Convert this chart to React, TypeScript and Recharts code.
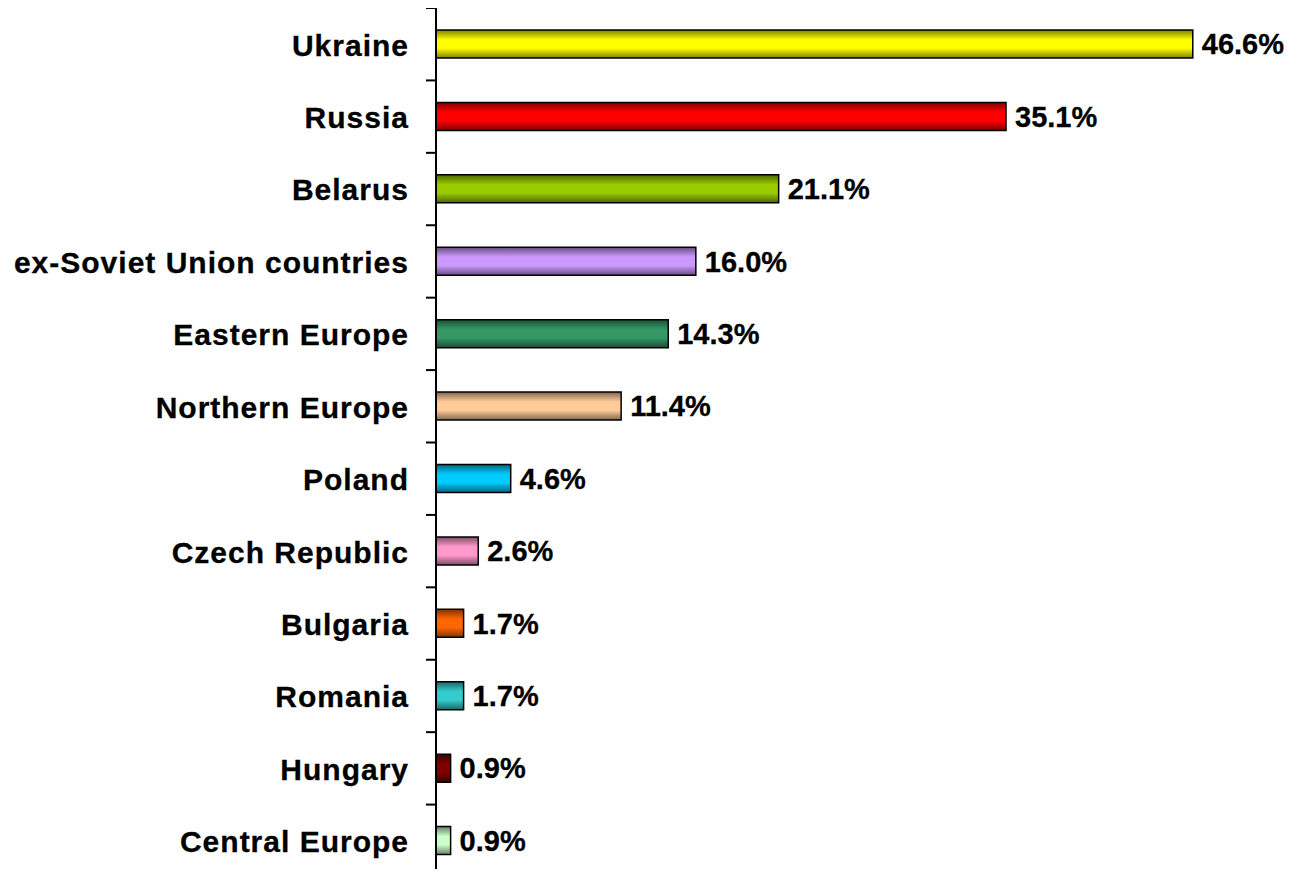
import React from 'react';
import { BarChart, Bar, XAxis, YAxis, Cell, LabelList } from 'recharts';

const regions = [
  'Ukraine',
  'Russia',
  'Belarus',
  'ex-Soviet Union countries',
  'Eastern Europe',
  'Northern Europe',
  'Poland',
  'Czech Republic',
  'Bulgaria',
  'Romania',
  'Hungary',
  'Central Europe',
];

const shares = [46.6, 35.1, 21.1, 16.0, 14.3, 11.4, 4.6, 2.6, 1.7, 1.7, 0.9, 0.9];

const barColors = [
  '#FFFF00',
  '#FF0000',
  '#99CC00',
  '#CC99FF',
  '#339966',
  '#FFCC99',
  '#00CCFF',
  '#FF99CC',
  '#FF6600',
  '#33CCCC',
  '#800000',
  '#CCFFCC',
];

const chartData = regions.map((name, i) => ({ name, value: shares[i] }));

// darken a hex colour for the edges of the bar gradient
function shade(hex: string, f: number) {
  const n = parseInt(hex.slice(1), 16);
  const r = Math.round(((n >> 16) & 255) * f);
  const g = Math.round(((n >> 8) & 255) * f);
  const b = Math.round((n & 255) * f);
  return `rgb(${r},${g},${b})`;
}

const FONT = 'Arial, "Liberation Sans", sans-serif';

function CategoryTick(props: any) {
  const { x, y, payload } = props;
  const half = payload.offset || 0;
  return (
    <g>
      <line x1={x + 18} x2={x + 28} y1={y - half} y2={y - half} stroke="#000" strokeWidth={2} />
      <text
        x={x + 1}
        y={y}
        dy="0.38em"
        textAnchor="end"
        fontFamily={FONT}
        fontWeight="bold"
        fontSize={30}
        letterSpacing={1}
        stroke="#000"
        strokeWidth={0.3}
        fill="#000"
      >
        {payload.value}
      </text>
    </g>
  );
}

export default function App() {
  return (
    <div style={{ margin: -8, width: 1299, height: 877, background: '#fff' }}>
      <BarChart
        width={1299}
        height={877}
        data={chartData}
        layout="vertical"
        margin={{ top: 8, right: 51, left: 0, bottom: 0 }}
      >
        <defs>
          {barColors.map((c, i) => (
            <linearGradient key={i} id={`bar-grad-${i}`} x1="0" y1="0" x2="0" y2="1">
              <stop offset="0%" stopColor={shade(c, 0.5)} />
              <stop offset="35%" stopColor={c} />
              <stop offset="65%" stopColor={c} />
              <stop offset="100%" stopColor={shade(c, 0.5)} />
            </linearGradient>
          ))}
        </defs>
        <XAxis type="number" domain={[0, 50]} hide />
        <YAxis
          type="category"
          dataKey="name"
          width={436}
          axisLine={{ stroke: '#000', strokeWidth: 2 }}
          tickLine={false}
          tickSize={0}
          tickMargin={28}
          tick={<CategoryTick />}
          interval={0}
        />
        <Bar dataKey="value" barSize={28} stroke="#000" strokeWidth={1.5} isAnimationActive={false}>
          {chartData.map((_, i) => (
            <Cell key={i} fill={`url(#bar-grad-${i})`} />
          ))}
          <LabelList
            dataKey="value"
            position="right"
            offset={9}
            formatter={(v: any) => `${Number(v).toFixed(1)}%`}
            style={{ fontFamily: FONT, fontWeight: 'bold', fontSize: 29, fill: '#000', stroke: '#000', strokeWidth: 0.3 }}
          />
        </Bar>
      </BarChart>
    </div>
  );
}
